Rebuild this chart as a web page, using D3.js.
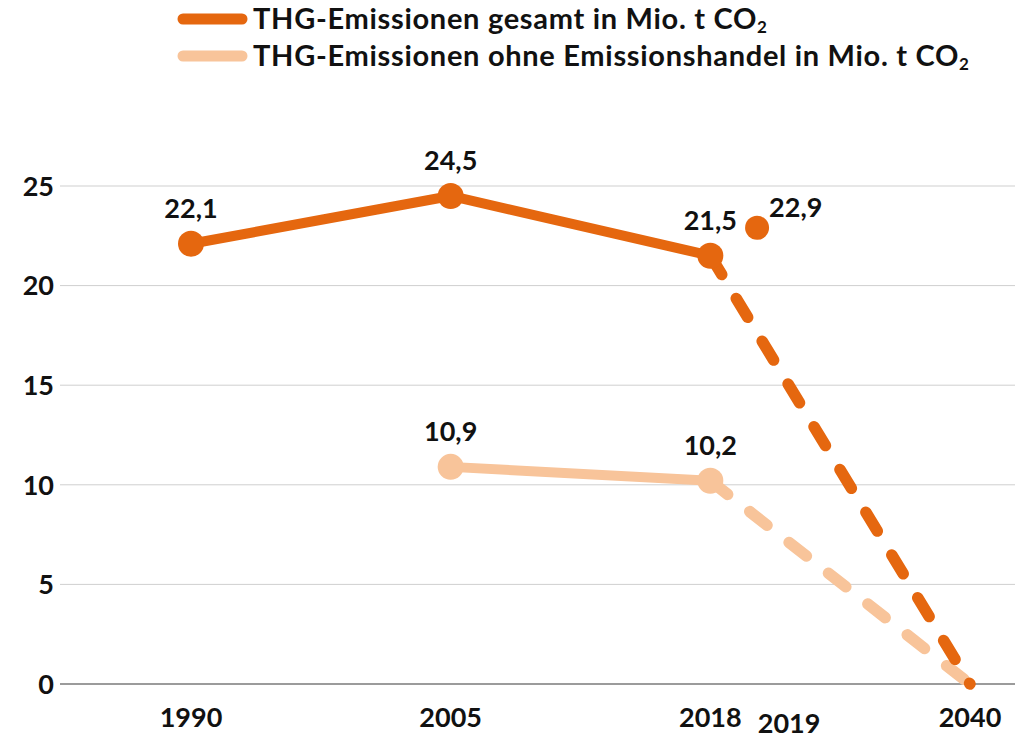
<!DOCTYPE html>
<html>
<head>
<meta charset="utf-8">
<script src="https://cdn.jsdelivr.net/npm/d3@7"></script>
<style>
  body { margin: 0; background: #fff; }
  text { font-family: Lato, "Open Sans", sans-serif; font-weight: bold; fill: #111; }
</style>
</head>
<body>
<div id="chart"></div>
<script>
// data
const years = ["1990", "2005", "2018", "2040"];
const gesamt = [22.1, 24.5, 21.5];          // 1990, 2005, 2018
const gesamtYears = ["1990", "2005", "2018"];
const ohneEH = [10.9, 10.2];                 // 2005, 2018
const ohneEHYears = ["2005", "2018"];
const target2040 = 0;
const value2019 = 22.9;
const yTicks = [0, 5, 10, 15, 20, 25];
const legendLabels = ["THG-Emissionen gesamt in Mio. t CO", "THG-Emissionen ohne Emissionshandel in Mio. t CO"];

const dark = "#e5670f", light = "#f8c49a";

const width = 1015, height = 738;
const margin = {top: 186, right: 0, bottom: 54, left: 60};

const svg = d3.select("#chart")
  .append("svg")
    .attr("width", width)
    .attr("height", height);

// x: categories evenly spaced, 2019 squeezed just after 2018
const x = d3.scalePoint()
  .domain(years)
  .range([191, 970]);
const x2019 = x("2018") + x.step() * 0.18;

const y = d3.scaleLinear()
  .domain([0, 25])
  .range([684, 186]);

// gridlines
svg.append("g")
  .selectAll("line")
  .data(yTicks)
  .join("line")
    .attr("x1", margin.left)
    .attr("x2", width)
    .attr("y1", d => y(d))
    .attr("y2", d => y(d))
    .attr("stroke", d => d === 0 ? "#7a7a7a" : "#cfcfcf")
    .attr("stroke-width", d => d === 0 ? 1.6 : 1);

// y labels
svg.append("g")
  .selectAll("text")
  .data(yTicks)
  .join("text")
    .attr("x", 54)
    .attr("y", d => y(d))
    .attr("dy", "0.36em")
    .attr("text-anchor", "end")
    .style("font-size", "27px")
    .text(d => d);

// x labels
svg.append("g")
  .selectAll("text")
  .data(years)
  .join("text")
    .attr("x", d => x(d))
    .attr("y", 727)
    .attr("text-anchor", "middle")
    .style("font-size", "27px")
    .text(d => d);
svg.append("text")
  .attr("x", x2019 + 32)
  .attr("y", 733)
  .attr("text-anchor", "middle")
  .style("font-size", "27px")
  .text("2019");

// dashed projections to 2040
const dashed = [
  {from: ["2018", gesamt[2]], color: dark},
  {from: ["2018", ohneEH[1]], color: light}
];
// light first so the dark one lies on top
dashed.slice().reverse().forEach(d => {
  svg.append("line")
    .attr("x1", x(d.from[0]))
    .attr("y1", y(d.from[1]))
    .attr("x2", x("2040"))
    .attr("y2", y(target2040))
    .attr("stroke", d.color)
    .attr("stroke-width", 11.5)
    .attr("stroke-linecap", "round")
    .attr("stroke-dasharray", "22 28");
});

const line = d3.line()
  .x(d => x(d[0]))
  .y(d => y(d[1]));

function series(yrs, vals, color) {
  const pts = yrs.map((yr, i) => [yr, vals[i]]);
  svg.append("path")
    .datum(pts)
    .attr("fill", "none")
    .attr("stroke", color)
    .attr("stroke-width", 10)
    .attr("stroke-linejoin", "round")
    .attr("d", line);
  svg.append("g")
    .selectAll("circle")
    .data(pts)
    .join("circle")
      .attr("cx", d => x(d[0]))
      .attr("cy", d => y(d[1]))
      .attr("r", 13)
      .attr("fill", color);
  svg.append("g")
    .selectAll("text")
    .data(pts)
    .join("text")
      .attr("x", d => x(d[0]))
      .attr("y", d => y(d[1]) - 26)
      .attr("text-anchor", "middle")
      .style("font-size", "27px")
      .text(d => d3.format(".1f")(d[1]).replace(".", ","));
}

series(ohneEHYears, ohneEH, light);
series(gesamtYears, gesamt, dark);

// lone 2019 value
svg.append("circle")
  .attr("cx", x2019)
  .attr("cy", y(value2019))
  .attr("r", 12)
  .attr("fill", dark);
svg.append("text")
  .attr("x", x2019 + 12)
  .attr("y", y(value2019) - 11)
  .style("font-size", "27px")
  .text(d3.format(".1f")(value2019).replace(".", ","));

// legend
const legend = svg.append("g");
[dark, light].forEach((c, i) => {
  const ly = 19 + i * 37;
  legend.append("line")
    .attr("x1", 183).attr("x2", 242)
    .attr("y1", ly).attr("y2", ly)
    .attr("stroke", c)
    .attr("stroke-width", 11)
    .attr("stroke-linecap", "round");
  const t = legend.append("text")
    .attr("x", 253)
    .attr("y", ly)
    .attr("dy", "0.36em")
    .style("font-size", "29px")
    .style("letter-spacing", "0.7px")
    .text(legendLabels[i]);
  t.append("tspan")
    .attr("dy", 4)
    .style("font-size", "17px")
    .text("2");
});
</script>
</body>
</html>
